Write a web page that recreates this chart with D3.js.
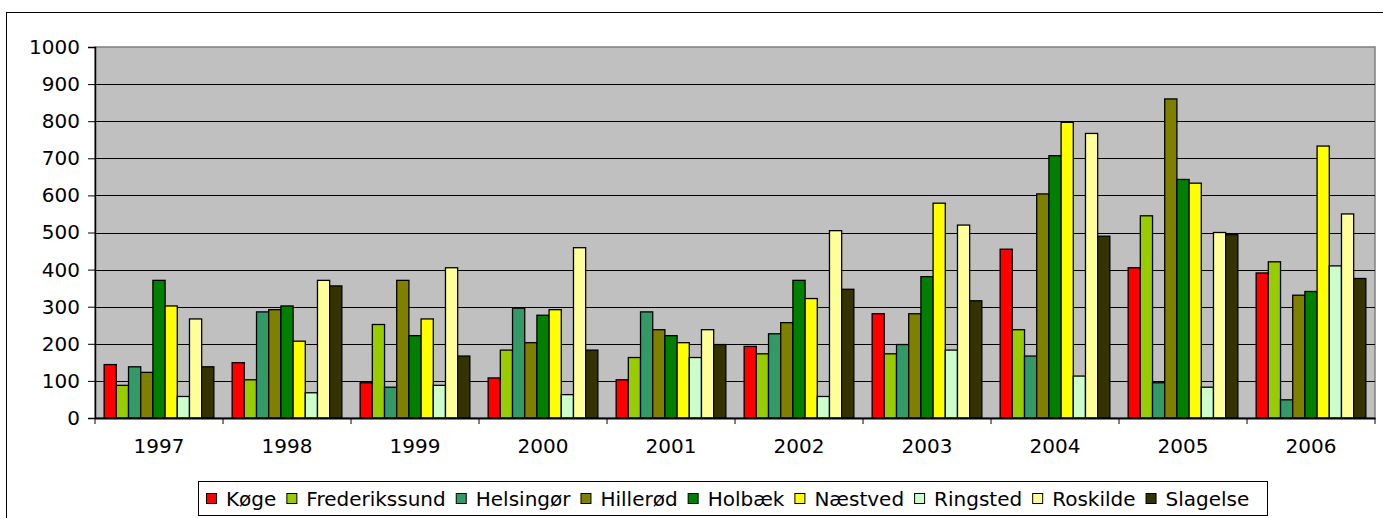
<!DOCTYPE html>
<html>
<head>
<meta charset="utf-8">
<script src="https://cdn.jsdelivr.net/npm/d3@7"></script>
<style>
  body { margin: 0; background: #fff; }
  svg { display: block; font-family: "DejaVu Sans", Verdana, sans-serif; }
</style>
</head>
<body>
<svg></svg>
<script>
// data
let years = ["1997", "1998", "1999", "2000", "2001", "2002", "2003", "2004", "2005", "2006"];
let towns = ["Køge", "Frederikssund", "Helsingør", "Hillerød", "Holbæk", "Næstved", "Ringsted", "Roskilde", "Slagelse"];
let townColors = ["#ff0000", "#99cc00", "#339966", "#808000", "#008000", "#ffff00", "#ccffcc", "#ffff99", "#333300"];

let koge          = [144, 149,  95, 108, 103, 193, 281, 455, 405, 391];
let frederikssund = [ 88, 103, 252, 183, 163, 173, 173, 238, 545, 421];
let helsingor     = [138, 286,  83, 296, 286, 227, 198, 167,  95,  49];
let hillerod      = [123, 292, 371, 203, 238, 257, 281, 604, 860, 331];
let holbaek       = [371, 302, 222, 277, 222, 371, 381, 707, 643, 341];
let naestved      = [302, 207, 267, 292, 203, 322, 579, 797, 633, 733];
let ringsted      = [ 58,  68,  88,  63, 163,  58, 183, 113,  83, 410];
let roskilde      = [267, 371, 405, 459, 238, 505, 520, 767, 500, 550];
let slagelse      = [138, 356, 167, 183, 198, 347, 316, 490, 494, 376];

let yTicks = [0, 100, 200, 300, 400, 500, 600, 700, 800, 900, 1000];

let seriesValues = [koge, frederikssund, helsingor, hillerod, holbaek, naestved, ringsted, roskilde, slagelse];

let width = 1383, height = 518;
let plot = {left: 95, right: 1375, top: 47, bottom: 418};

let svg = d3.select("svg")
    .attr("width", width)
    .attr("height", height)
    .attr("viewBox", "0 0 " + width + " " + height);

// outer chart border (runs off right and bottom)
svg.append("rect")
    .attr("x", 6.5).attr("y", 12.5)
    .attr("width", 1420).attr("height", 600)
    .attr("fill", "none")
    .attr("stroke", "#000");

let x0 = d3.scaleBand()
    .domain(years)
    .range([plot.left, plot.right])
    .paddingInner(0)
    .paddingOuter(0);

let x1 = d3.scaleBand()
    .domain(towns)
    .range([0, x0.bandwidth()])
    .paddingInner(0)
    .paddingOuter(0.75);

let y = d3.scaleLinear()
    .domain([0, 1000])
    .range([plot.bottom, plot.top]);

let color = d3.scaleOrdinal().domain(towns).range(townColors);

// plot background
svg.append("rect")
    .attr("x", plot.left).attr("y", plot.top)
    .attr("width", plot.right - plot.left)
    .attr("height", plot.bottom - plot.top)
    .attr("fill", "#c0c0c0")
    .attr("stroke", "#808080")
    .attr("stroke-width", 1.5);

// gridlines
svg.append("g")
    .selectAll("line")
    .data(yTicks.filter(d => d > 0 && d < 1000))
    .enter()
    .append("line")
    .attr("x1", plot.left).attr("x2", plot.right)
    .attr("y1", d => Math.round(y(d)) + 0.5)
    .attr("y2", d => Math.round(y(d)) + 0.5)
    .attr("stroke", "#000");

// bars
let rows = [];
years.forEach((yr, i) => {
  towns.forEach((t, j) => {
    rows.push({year: yr, town: t, value: seriesValues[j][i]});
  });
});

svg.append("g")
    .selectAll("rect")
    .data(rows)
    .enter()
    .append("rect")
    .attr("x", d => x0(d.year) + x1(d.town))
    .attr("y", d => y(d.value))
    .attr("width", x1.bandwidth())
    .attr("height", d => y(0) - y(d.value))
    .attr("fill", d => color(d.town))
    .attr("stroke", "#000")
    .attr("stroke-width", 1.3);

// y axis
let yAxis = svg.append("g")
    .attr("transform", "translate(" + plot.left + ",0)")
    .call(d3.axisLeft(y).tickValues(yTicks).tickSize(7).tickPadding(8).tickFormat(d3.format("d")));
yAxis.select(".domain").attr("stroke", "#000").attr("stroke-width", 1.5);
yAxis.selectAll("text").attr("font-size", 20).attr("fill", "#000").attr("font-family", "DejaVu Sans");

// x axis: labels centred, ticks on the category borders
let xAxis = svg.append("g")
    .attr("transform", "translate(0," + plot.bottom + ")")
    .call(d3.axisBottom(x0).tickSize(0).tickPadding(21));
xAxis.select(".domain").attr("stroke", "#000").attr("stroke-width", 2);
xAxis.selectAll("text").attr("font-size", 20).attr("fill", "#000").attr("font-family", "DejaVu Sans");

let borders = years.map(d => x0(d)).concat([plot.right]);
svg.append("g")
    .selectAll("line")
    .data(borders)
    .enter()
    .append("line")
    .attr("x1", d => d).attr("x2", d => d)
    .attr("y1", plot.bottom).attr("y2", plot.bottom + 6)
    .attr("stroke", "#000");

// legend
let legendBox = svg.append("rect")
    .attr("x", 198.5).attr("y", 481.5)
    .attr("width", 1069).attr("height", 34)
    .attr("fill", "#fff")
    .attr("stroke", "#000");

let legend = svg.append("g").attr("class", "legend");
let lx = 206;
towns.forEach((t, i) => {
  legend.append("rect")
      .attr("x", lx + 0.5).attr("y", 493.5)
      .attr("width", 10).attr("height", 10)
      .attr("fill", color(t))
      .attr("stroke", "#000");
  let txt = legend.append("text")
      .attr("x", lx + 20)
      .attr("y", 505.5)
      .attr("font-size", 20)
      .attr("fill", "#000")
      .text(t);
  lx = lx + 20 + txt.node().getComputedTextLength() + 10;
});
</script>
</body>
</html>
